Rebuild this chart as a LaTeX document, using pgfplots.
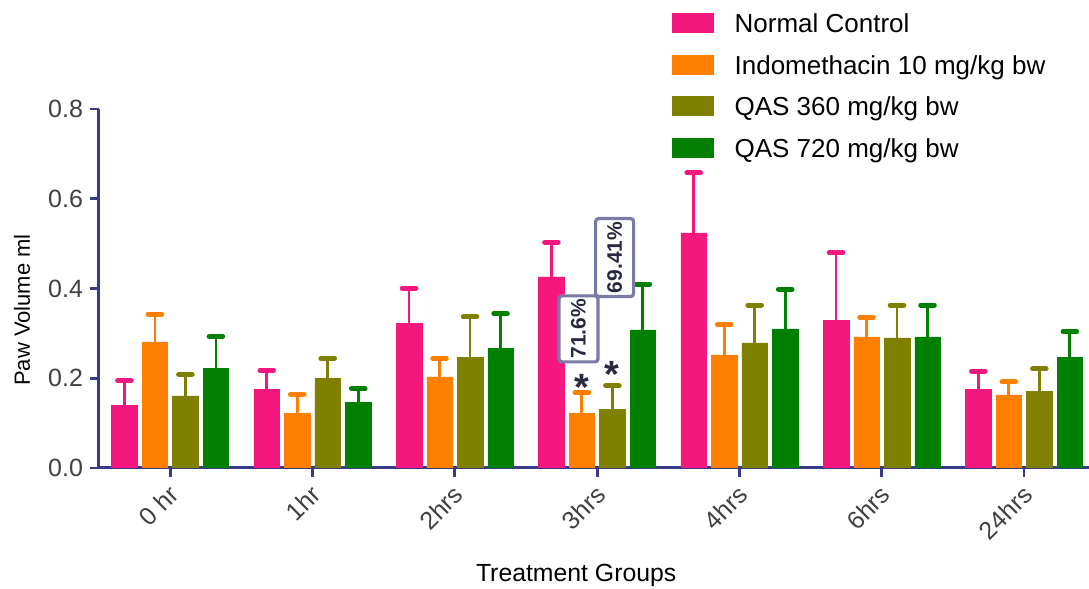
\documentclass[border=0pt]{standalone}
\usepackage{pgfplots}
\pgfplotsset{compat=1.18}
\usepackage{fontspec}
\setmainfont{Liberation Sans}
\definecolor{pinkc}{RGB}{244,23,126}
\definecolor{orangec}{RGB}{255,128,0}
\definecolor{olivec}{RGB}{128,128,0}
\definecolor{greenc}{RGB}{0,128,0}
\definecolor{axisc}{RGB}{58,58,138}
\definecolor{boxc}{RGB}{122,122,166}
\definecolor{annc}{RGB}{40,40,64}
\definecolor{tickc}{RGB}{64,64,64}
\begin{document}
\begin{tikzpicture}
\begin{axis}[
  scale only axis,
  width=495pt, height=179.5pt,
  xmin=-0.5, xmax=6.456,
  ymin=0, ymax=0.8,
  axis x line=bottom, axis y line=left,
  axis line style={-, draw=axisc, line width=1.5pt},
  ybar=2.5pt, bar width=12.75pt,
  xtick={0,...,6},
  xticklabels={0 hr,1hr,2hrs,3hrs,4hrs,6hrs,24hrs},
  ytick={0,0.2,0.4,0.6,0.8},
  yticklabel style={/pgf/number format/.cd, fixed, fixed zerofill, precision=1, assume math mode=true},
  tick style={draw=axisc, line width=1.4pt},
  tick align=outside,
  major tick length=4.5pt,
  ticklabel style={font=\fontsize{12.5}{14}\selectfont, text=tickc},
  xticklabel style={rotate=45, anchor=east, yshift=-6pt},
  ylabel={Paw Volume ml},
  ylabel style={at={(axis description cs:-0.0778,0.44)}, anchor=center, font=\fontsize{11}{13}\selectfont},
  xlabel={Treatment Groups},
  xlabel style={at={(axis description cs:0.482,-0.298)}, anchor=center, font=\fontsize{12.4}{14}\selectfont},
  legend style={at={(axis description cs:0.578,1.268)}, anchor=north west, draw=none, fill=none,
    inner sep=0pt, row sep=10.75pt, font=\fontsize{13}{15}\selectfont,
    nodes={text height=9.5pt, text depth=0pt, inner sep=0pt},
    /tikz/every odd column/.append style={column sep=10.5pt}},
  legend cell align=left,
  legend image code/.code={\path[#1, draw=none] (0pt,-5pt) rectangle (21pt,5pt);},
  error bars/y dir=plus, error bars/y explicit,
]
\addplot[fill=pinkc, draw=pinkc, line width=0.2pt,
  error bars/error bar style={draw=pinkc, line width=1.4pt},
  error bars/error mark options={draw=pinkc, line width=2.5pt, mark size=3.4pt, rotate=90, line cap=round}]
  coordinates {(0,0.140) +- (0,0.055) (1,0.176) +- (0,0.042) (2,0.322) +- (0,0.079) (3,0.426) +- (0,0.077) (4,0.524) +- (0,0.134) (5,0.329) +- (0,0.151) (6,0.175) +- (0,0.041)};
\addplot[fill=orangec, draw=orangec, line width=0.2pt,
  error bars/error bar style={draw=orangec, line width=1.4pt},
  error bars/error mark options={draw=orangec, line width=2.5pt, mark size=3.4pt, rotate=90, line cap=round}]
  coordinates {(0,0.281) +- (0,0.062) (1,0.122) +- (0,0.042) (2,0.203) +- (0,0.041) (3,0.122) +- (0,0.046) (4,0.252) +- (0,0.067) (5,0.292) +- (0,0.044) (6,0.163) +- (0,0.029)};
\addplot[fill=olivec, draw=olivec, line width=0.2pt,
  error bars/error bar style={draw=olivec, line width=1.4pt},
  error bars/error mark options={draw=olivec, line width=2.5pt, mark size=3.4pt, rotate=90, line cap=round}]
  coordinates {(0,0.161) +- (0,0.048) (1,0.200) +- (0,0.044) (2,0.246) +- (0,0.091) (3,0.131) +- (0,0.052) (4,0.279) +- (0,0.084) (5,0.290) +- (0,0.073) (6,0.171) +- (0,0.050)};
\addplot[fill=greenc, draw=greenc, line width=0.2pt,
  error bars/error bar style={draw=greenc, line width=1.4pt},
  error bars/error mark options={draw=greenc, line width=2.5pt, mark size=3.4pt, rotate=90, line cap=round}]
  coordinates {(0,0.222) +- (0,0.071) (1,0.146) +- (0,0.031) (2,0.267) +- (0,0.077) (3,0.308) +- (0,0.102) (4,0.310) +- (0,0.088) (5,0.292) +- (0,0.071) (6,0.247) +- (0,0.057)};
\legend{Normal Control, Indomethacin 10 mg/kg bw, QAS 360 mg/kg bw, QAS 720 mg/kg bw}
\node[rotate=90, draw=boxc, line width=1.6pt, rounded corners=1.5pt, fill=white, text=annc,
  font=\bfseries\fontsize{10.5}{12}\selectfont, minimum width=33pt, minimum height=19.5pt, inner sep=1pt]
  at (axis cs:2.869,0.310) {71.6\%};
\node[rotate=90, draw=boxc, line width=1.6pt, rounded corners=1.5pt, fill=white, text=annc,
  font=\bfseries\fontsize{10.5}{12}\selectfont, minimum width=39pt, minimum height=19pt, inner sep=1pt]
  at (axis cs:3.123,0.469) {69.41\%};
\node[anchor=base, text=annc, font=\bfseries\fontsize{19}{21}\selectfont, inner sep=0pt] at (axis cs:2.893,0.150) {*};
\node[anchor=base, text=annc, font=\bfseries\fontsize{19}{21}\selectfont, inner sep=0pt] at (axis cs:3.107,0.180) {*};
\end{axis}
\pgfresetboundingbox
\path[use as bounding box] (-49.5pt,-60.5pt) rectangle (495pt,234pt);
\end{tikzpicture}
\end{document}
